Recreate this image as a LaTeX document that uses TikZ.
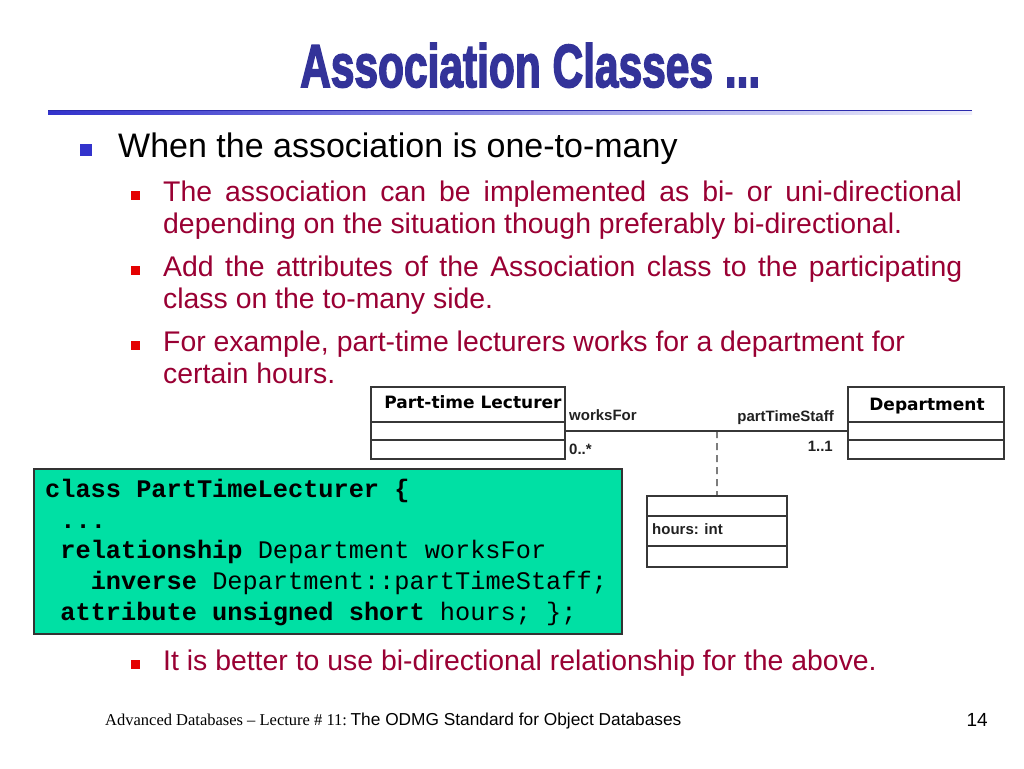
\documentclass[tikz,border=0pt]{standalone}
\usepackage{fontspec}
\usepackage{graphicx}
\setmainfont{Liberation Sans}
\setmonofont{Liberation Mono}
\newfontfamily\timesfont{Liberation Serif}
\newfontfamily\titlefont[FakeBold=3]{Liberation Sans Bold}
\newfontfamily\umlfont{DejaVu Sans}

\definecolor{titleblue}{RGB}{51,51,153}
\definecolor{bulletblue}{RGB}{51,51,204}
\definecolor{bulletred}{RGB}{228,0,0}
\definecolor{maroon}{RGB}{153,0,51}
\definecolor{codegreen}{RGB}{0,224,164}
\definecolor{umlgray}{RGB}{55,55,55}

\newcommand{\fsz}[1]{\fontsize{#1}{#1}\selectfont}

\begin{document}
\begin{tikzpicture}[x=1pt,y=-1pt,
    every node/.style={inner sep=0pt},
    subtext/.style={anchor=base west, text=maroon, font=\fsz{28.4}},
    redbullet/.style={fill=bulletred, minimum size=9pt},
    classbox/.style={draw=umlgray, line width=1.3pt, fill=white},
    compline/.style={draw=umlgray, line width=1.3pt},
    classname/.style={anchor=base, font=\umlfont\bfseries\fsz{17}},
    role/.style={font=\bfseries\fsz{15}, text=umlgray!60!black},
    codeline/.style={anchor=base west, font=\ttfamily\fsz{25.3}}]

\useasboundingbox (0,0) rectangle (1024,768);

% title
\node[anchor=base west, text=titleblue] (title) at (300,87)
  {\resizebox{460pt}{44pt}{\titlefont Association Classes ...}};
\shade[left color=bulletblue, right color=bulletblue!8] (48,110) rectangle (972,114);
\draw[bulletblue!85!black, line width=1pt] (48,110.5) -- (972,110.5);

% bullets
\node[fill=bulletblue, minimum size=12pt] (b0) at (86,150) {};
\node[anchor=base west, font=\fsz{34}] (l0) at (118,157) {When the association is one-to-many};

\begin{scope}
  \node[redbullet] (b1) at (135.5,195.5) {};
  \node[subtext] (l1a) at (163,201.5) {\makebox[799pt][s]{The association can be implemented as bi- or uni-directional}};
  \node[subtext] (l1b) at (163,233.5) {depending on the situation though preferably bi-directional.};
  \node[redbullet] (b2) at (135.5,270.5) {};
  \node[subtext] (l2a) at (163,276.5) {\makebox[799pt][s]{Add the attributes of the Association class to the participating}};
  \node[subtext] (l2b) at (163,308.5) {class on the to-many side.};
  \node[redbullet] (b3) at (135.5,345.5) {};
  \node[subtext] (l3a) at (163,351.5) {For example, part-time lecturers works for a department for};
  \node[subtext] (l3b) at (163,383.5) {certain hours.};
  \node[redbullet] (b4) at (135.5,664.5) {};
  \node[subtext] (l4) at (163,670.5) {It is better to use bi-directional relationship for the above.};
\end{scope}

% uml classes
\begin{scope}
  \node[classbox, minimum width=194pt, minimum height=72pt] (lect) at (468,423) {};
  \node[classbox, minimum width=156pt, minimum height=72pt] (dept) at (926,423) {};
  \node[classbox, minimum width=140pt, minimum height=71pt] (hrs) at (717,531.5) {};

  \path[compline] (lect.west |- 0,422) -- (lect.east |- 0,422);
  \path[compline] (lect.west |- 0,440) -- (lect.east |- 0,440);
  \path[compline] (dept.west |- 0,422) -- (dept.east |- 0,422);
  \path[compline] (dept.west |- 0,440) -- (dept.east |- 0,440);
  \path[compline] (hrs.west |- 0,516) -- (hrs.east |- 0,516);
  \path[compline] (hrs.west |- 0,546) -- (hrs.east |- 0,546);

  \node[classname] (lectname) at (473,408) {Part-time Lecturer};
  \node[classname] (deptname) at (927,410) {Department};

  \draw[umlgray, line width=1.2pt] ([yshift=-8pt]lect.east) -- ([yshift=-8pt]dept.west)
    coordinate[pos=0.537] (mid);
  \draw[umlgray, line width=1.2pt, dash pattern=on 7pt off 5pt] (mid) -- (hrs.north);

  \node[role, anchor=base west] (wf) at (569,420) {worksFor};
  \node[role, anchor=base east] (pts) at (834,421) {partTimeStaff};
  \node[role, anchor=base west] (many) at (569,454) {0..*};
  \node[role, anchor=base east] (one) at (833,451) {1..1};
  \node[role, anchor=base west] (hattr) at (652,534) {hours: int};
\end{scope}

% odl code
\node[draw=black!80, line width=1.3pt, fill=codegreen, minimum width=588pt, minimum height=165pt] (code) at (328,551.5) {};
\begin{scope}
  \node[codeline] (c1) at (45,497) {\textbf{class PartTimeLecturer \{}};
  \node[codeline] (c2) at (60.2,528) {\textbf{...}};
  \node[codeline] (c3) at (60.2,558) {\textbf{relationship} Department worksFor};
  \node[codeline] (c4) at (90.6,589) {\textbf{inverse} Department::partTimeStaff;};
  \node[codeline] (c5) at (60.2,620) {\textbf{attribute unsigned short} hours; \};};
\end{scope}

% footer
\node[anchor=base west] (foot) at (105,725)
  {{\timesfont\fsz{16.5}Advanced Databases – Lecture \# 11:} {\fsz{17.3}The ODMG Standard for Object Databases}};
\node[anchor=base east, font=\fsz{19}] (page) at (988,726) {14};

\end{tikzpicture}
\end{document}
